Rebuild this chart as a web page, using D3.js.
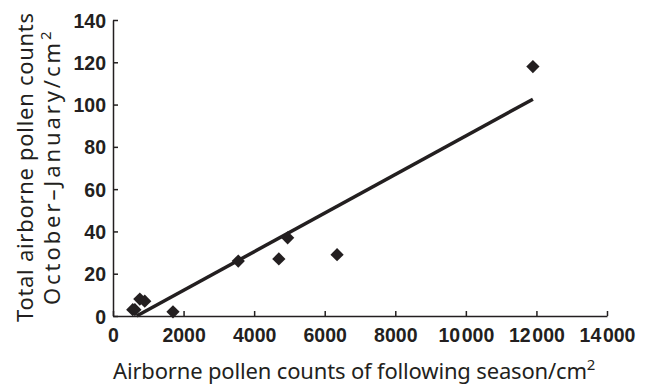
<!DOCTYPE html>
<html>
<head>
<meta charset="utf-8">
<script src="https://cdn.jsdelivr.net/npm/d3@7"></script>
<style>
	body{margin:0;background:#fff;}
	.tick text{font-family:"Liberation Sans",Arial,sans-serif;font-weight:bold;font-size:19.5px;fill:#231f20;}
	.title{font-family:"Noto Sans","DejaVu Sans",sans-serif;font-size:22px;fill:#231f20;}
</style>
</head>
<body>
<div id="chart"></div>
<script>
// data
var pollenSeason=[560,620,760,900,1700,3550,4700,4950,6350,11900];
var pollenWinter=[3,3,8,7,2,26,27,37,29,118];
// fitted line
var fitX=[670,11900];
var fitSlope=0.00913;
var fitIntercept=-6.12;
var xTicks=[0,2000,4000,6000,8000,10000,12000,14000];
var yTicks=[0,20,40,60,80,100,120,140];

var width=647, height=390;
var padding={left:113, right:40, top:20, bottom:74};
var ink="#231f20";

var svg=d3.select("#chart").append("svg")
	.attr("width",width)
	.attr("height",height);

var x_scale=d3.scaleLinear().domain([0,14000]).range([padding.left,width-padding.right]);
var y_scale=d3.scaleLinear().domain([0,140]).range([height-padding.bottom,padding.top]);

// axes, ticks pointing inward
var xAxis=svg.append("g")
	.attr("transform","translate(0,"+(height-padding.bottom)+")")
	.call(d3.axisBottom(x_scale).tickValues(xTicks).tickSizeInner(-5).tickSizeOuter(0)
		.tickPadding(12).tickFormat(function(d){return d>=10000 ? String(d).slice(0,2)+"\u200a"+String(d).slice(2) : d;}));
var yAxis=svg.append("g")
	.attr("transform","translate("+padding.left+",0)")
	.call(d3.axisLeft(y_scale).tickValues(yTicks).tickSizeInner(-5).tickSizeOuter(0).tickPadding(7));
svg.selectAll(".domain, .tick line").attr("stroke",ink).attr("stroke-width",1.5);
xAxis.selectAll(".tick text").attr("dy","0.71em");
yAxis.selectAll(".tick text").attr("dy","0.36em");

// regression line
svg.append("path")
	.datum(fitX)
	.attr("d",d3.line()
		.x(function(d){return x_scale(d);})
		.y(function(d){return y_scale(fitIntercept+fitSlope*d);}))
	.attr("stroke",ink)
	.attr("stroke-width",3.5)
	.attr("fill","none");

// points
var diamond=d3.symbol().type(d3.symbolSquare).size(88);
svg.append("g").selectAll("path")
	.data(pollenSeason)
	.enter().append("path")
	.attr("d",diamond)
	.attr("transform",function(d,i){return "translate("+x_scale(d)+","+y_scale(pollenWinter[i])+") rotate(45)";})
	.attr("fill",ink);

// axis titles
var xt=svg.append("text").attr("class","title")
	.attr("x",113)
	.attr("y",379);
xt.append("tspan").attr("textLength",474).attr("lengthAdjust","spacing")
	.text("Airborne pollen counts of following season/cm");
xt.append("tspan").attr("dy",-9).attr("font-size",15).text("2");

var yt=svg.append("g").attr("transform","rotate(-90)");
yt.append("text").attr("class","title")
	.attr("x",-322).attr("y",33)
	.attr("textLength",309).attr("lengthAdjust","spacing")
	.text("Total airborne pollen counts");
var yt2=yt.append("text").attr("class","title")
	.attr("x",-305).attr("y",60);
yt2.append("tspan").attr("textLength",262).attr("lengthAdjust","spacing")
	.text("October\u2013January/cm");
yt2.append("tspan").attr("dy",-9).attr("font-size",15).text("2");
</script>
</body>
</html>
